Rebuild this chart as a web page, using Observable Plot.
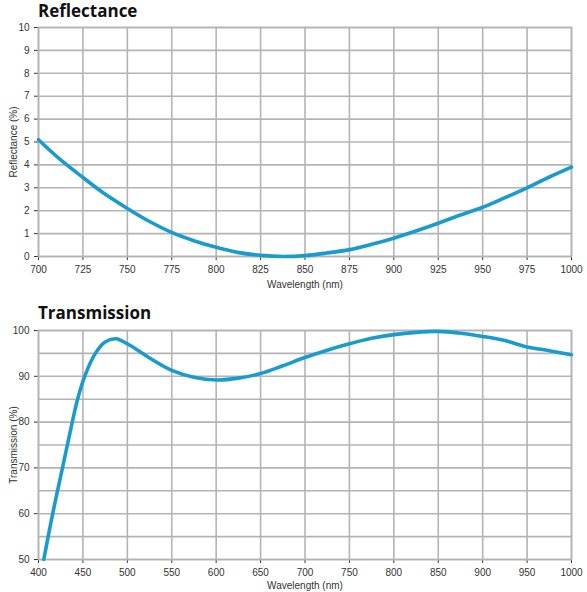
<!DOCTYPE html>
<html>
<head>
<meta charset="utf-8">
<script src="https://cdn.jsdelivr.net/npm/d3@7"></script>
<script src="https://cdn.jsdelivr.net/npm/@observablehq/plot@0.6"></script>
<style>
  body { margin: 0; background: #fff; }
  #wrap { position: relative; width: 587px; height: 592px; overflow: hidden; }
  .title { position: absolute; left: 38px; font-family: "Open Sans", sans-serif; font-weight: 700; font-size: 17px; line-height: 22px; color: #111; }
  .chart { position: absolute; left: 0; }
</style>
</head>
<body>
<div id="wrap">
  <div class="title" style="top:0px">Reflectance</div>
  <div id="refl" class="chart" style="top:22px"></div>
  <div class="title" style="top:302px">Transmission</div>
  <div id="trans" class="chart" style="top:325px"></div>
</div>
<script>
// reflectance curve (nm, %)
const reflWl = [700, 712, 725, 737, 750, 762, 775, 787, 800, 812, 825, 838, 850, 862, 875, 887, 900, 912, 925, 937, 950, 962, 975, 987, 1000]
const reflPct = [5.1, 4.25, 3.45, 2.75, 2.1, 1.55, 1.05, 0.7, 0.4, 0.18, 0.05, 0.0, 0.04, 0.15, 0.3, 0.52, 0.8, 1.1, 1.45, 1.8, 2.15, 2.55, 3.0, 3.45, 3.9]

// transmission curve (nm, %)
const transWl = [406, 416, 427, 438, 444, 452, 464, 475, 487, 500, 525, 550, 575, 600, 625, 650, 675, 700, 725, 750, 775, 800, 825, 850, 875, 900, 925, 950, 975, 1000]
const transPct = [50, 60, 70, 80, 85, 90, 95, 97.5, 98.2, 97.1, 94, 91.3, 89.8, 89.2, 89.6, 90.6, 92.3, 94.1, 95.7, 97.1, 98.3, 99.1, 99.6, 99.8, 99.4, 98.7, 97.8, 96.4, 95.6, 94.7]

const reflXTicks = d3.range(700, 1001, 25)
const reflYTicks = d3.range(0, 11, 1)
const transXTicks = d3.range(400, 1001, 50)
const transYTicks = d3.range(50, 101, 10)
const transYGrid = d3.range(50, 101, 5)

const blue = '#1a9bcf'
const gridColor = '#b4b4b4'

let refl = reflWl.map((w, i) => ({wl: w, v: reflPct[i]}))
let trans = transWl.map((w, i) => ({wl: w, v: transPct[i]}))

function makeChart(data, opts) {
  return Plot.plot({
    width: 587,
    height: opts.height,
    marginLeft: 38,
    marginRight: 16,
    marginTop: 5,
    marginBottom: opts.marginBottom,
    x: {
      domain: opts.xDomain,
      ticks: opts.xTicks,
      tickSize: 4,
      tickFormat: d3.format('d'),
      label: 'Wavelength (nm)',
      labelAnchor: 'center',
      labelArrow: 'none',
      labelOffset: opts.xLabelOffset
    },
    y: {
      domain: opts.yDomain,
      ticks: opts.yTicks,
      tickSize: 4,
      tickFormat: d3.format('d'),
      label: opts.yLabel,
      labelAnchor: 'center',
      labelArrow: 'none',
      labelOffset: 29
    },
    marks: [
      Plot.gridX(opts.xTicks, {stroke: gridColor, strokeOpacity: 1, strokeWidth: 1.6}),
      Plot.gridY(opts.yGrid, {stroke: gridColor, strokeOpacity: 1, strokeWidth: 1.6}),
      Plot.frame({stroke: gridColor, strokeWidth: 1.6}),
      Plot.line(data, {x: 'wl', y: 'v', stroke: blue, strokeWidth: 3.6, curve: 'catmull-rom'})
    ],
    style: {
      fontFamily: '"Liberation Sans", Arial, sans-serif',
      fontSize: '10px',
      color: '#333',
      background: 'white'
    }
  })
}

d3.select('#refl').append(() => makeChart(refl, {
  height: 275, marginBottom: 41,
  xDomain: [700, 1000], xTicks: reflXTicks,
  yDomain: [0, 10], yTicks: reflYTicks, yGrid: reflYTicks,
  yLabel: 'Reflectance (%)', xLabelOffset: 31
}))

d3.select('#trans').append(() => makeChart(trans, {
  height: 267, marginBottom: 33,
  xDomain: [400, 1000], xTicks: transXTicks,
  yDomain: [50, 100], yTicks: transYTicks, yGrid: transYGrid,
  yLabel: 'Transmission (%)', xLabelOffset: 29
}))
</script>
</body>
</html>
